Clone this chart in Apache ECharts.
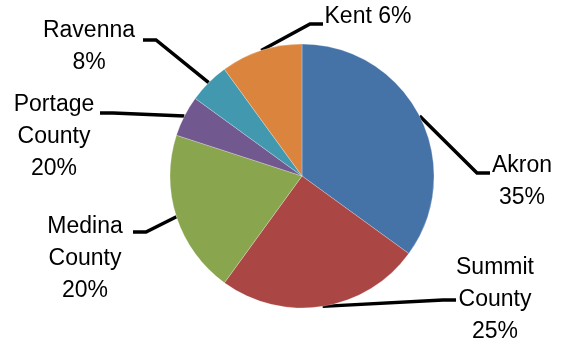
<!DOCTYPE html>
<html>
<head>
<meta charset="utf-8">
<script src="https://cdn.jsdelivr.net/npm/echarts@6/dist/echarts.min.js"></script>
<style>
  html, body { margin: 0; padding: 0; background: #fff; }
  #chart { width: 566px; height: 345px; }
</style>
</head>
<body>
<div id="chart"></div>
<script>
var names = ['Akron', 'Summit\nCounty', 'Medina\nCounty', 'Portage\nCounty', 'Ravenna', 'Kent'];
var values = [35, 25, 20, 5, 5, 10];
var printed = ['35%', '25%', '20%', '20%', '8%', '6%'];
var colors = ['#4572A7', '#AA4643', '#89A54E', '#71588F', '#4198AF', '#DB843D'];

// label box centre (where the leader line meets it) and an invisible spacer
// [width, height, 'top'|'bottom'] that shifts that meeting point like the original
var labelPos = [
  [522, 173],
  [495, 300],
  [85, 232],
  [54, 113],
  [89, 40],
  [368, 24]
];
var spacer = [
  [64, 18, 'top'],
  [0, 0, 'none'],
  [96, 54, 'top'],
  [92, 48, 'top'],
  [108, 14, 'top'],
  [90, 14, 'bottom']
];

var chart = echarts.init(document.getElementById('chart'), null, { renderer: 'canvas' });

var rich = { t: { fontFamily: 'Liberation Sans', fontSize: 23, lineHeight: 32, color: '#000' } };
var data = names.map(function (n, i) {
  var sep = i === 5 ? ' ' : '\n';
  var lines = (n + sep + printed[i]).split('\n').map(function (s) { return '{t|' + s + '}'; });
  var sp = spacer[i];
  var key = 's' + i;
  rich[key] = { width: sp[0], height: sp[1], lineHeight: sp[1], fontSize: 1 };
  if (sp[2] === 'top') lines.unshift('{' + key + '| }');
  if (sp[2] === 'bottom') lines.push('{' + key + '| }');
  return {
    name: n,
    value: values[i],
    itemStyle: { color: colors[i] },
    label: { formatter: lines.join('\n') }
  };
});

chart.setOption({
  animation: false,
  series: [{
    type: 'pie',
    center: [302, 176],
    radius: 132,
    startAngle: 90,
    clockwise: true,
    data: data,
    itemStyle: { borderColor: 'rgba(255,255,255,0.5)', borderWidth: 0.5 },
    label: {
      show: true,
      position: 'outside',
      color: '#000',
      fontFamily: 'Liberation Sans',
      fontSize: 23,
      lineHeight: 32,
      align: 'center',
      rich: rich
    },
    labelLine: {
      show: true,
      length: 20,
      length2: 13,
      lineStyle: { color: '#000', width: 3.5 }
    },
    labelLayout: function (p) {
      var pos = labelPos[p.dataIndex];
      return { x: pos[0], y: pos[1], align: 'center', verticalAlign: 'middle' };
    }
  }]
});
</script>
</body>
</html>
